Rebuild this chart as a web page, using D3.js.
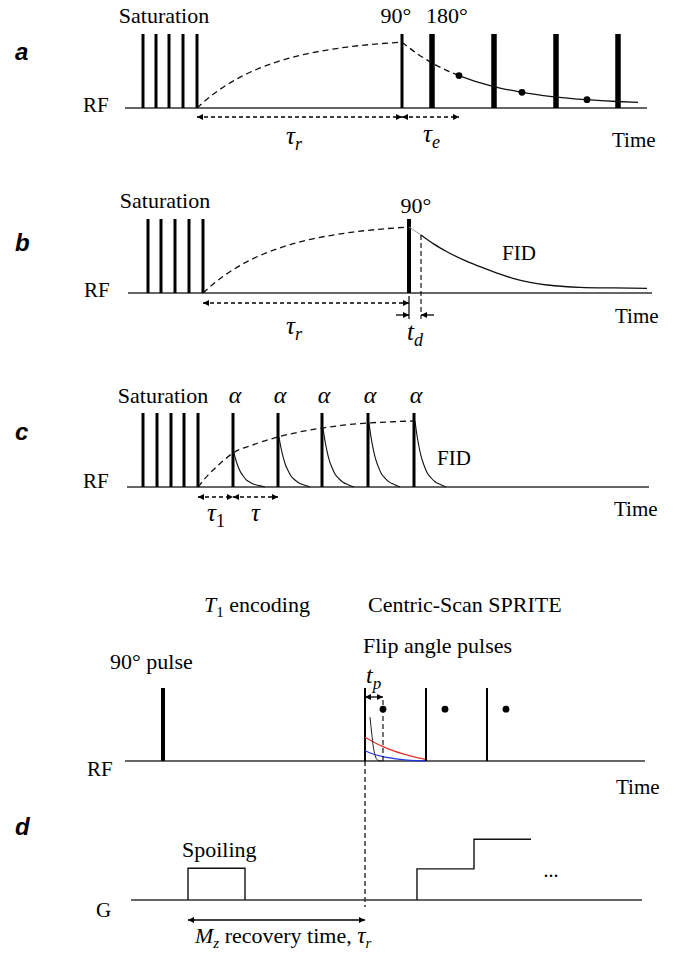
<!DOCTYPE html>
<html><head><meta charset="utf-8">
<script src="https://cdn.jsdelivr.net/npm/d3@7"></script>
<style>html,body{margin:0;padding:0;background:#fff}</style>
</head><body><svg id="c" width="684" height="956"></svg>
<script>
// ---------------- data (time in arbitrary units, signal 0..1) ----------------
const timeDomain = [0, 520];

// panel a : spin echo
const aSatPulses = [16, 29, 42, 56, 70];
const a90Pulse = [275];
const a180Pulses = [305, 367, 429, 491];
const aRecoveryT = [70, 80, 90, 100, 115, 130, 150, 170, 195, 220, 245, 275];
const aRecoveryS = [0, 0.119, 0.223, 0.314, 0.430, 0.524, 0.624, 0.701, 0.772, 0.823, 0.860, 0.890];
const aEchoDashT = [275, 290, 305, 320, 332];
const aEchoDashS = [0.890, 0.736, 0.610, 0.506, 0.438];
const aEchoT = [332, 350, 370, 395, 425, 460, 490, 511];
const aEchoS = [0.438, 0.353, 0.280, 0.212, 0.155, 0.112, 0.088, 0.077];
const aEchoDotsT = [332, 395, 460];
const aEchoDotsS = [0.438, 0.212, 0.112];

// panel b : FID
const bSatPulses = [21, 34, 48, 62, 76];
const b90Pulse = [282];
const bRecoveryT = [76, 86, 96, 106, 121, 136, 156, 176, 201, 226, 251, 282];
const bRecoveryS = [0, 0.119, 0.223, 0.314, 0.430, 0.524, 0.624, 0.701, 0.772, 0.823, 0.860, 0.892];
const bDeadT = [282, 294];
const bDeadS = [0.892, 0.784];
const bFidT = [294, 307, 320, 336, 353, 370, 386, 403, 420, 437, 453, 487, 520];
const bFidS = [0.784, 0.66, 0.558, 0.45, 0.356, 0.27, 0.198, 0.145, 0.108, 0.088, 0.077, 0.068, 0.063];

// panel c : small flip angle train
const cSatPulses = [16, 30, 44, 57, 71];
const cAlphaPulses = [106, 151, 195, 241, 287];
const cRecoveryT = [71, 81, 91, 106, 126, 151, 171, 195, 216, 241, 266, 287];
const cRecoveryS = [0, 0.16, 0.29, 0.459, 0.57, 0.676, 0.74, 0.797, 0.835, 0.865, 0.882, 0.892];
const cFidAmp = [0.459, 0.676, 0.797, 0.865, 0.892];
const fidDecayDt = [0, 2, 4, 6, 9, 12, 16, 20, 25, 31];
const fidDecayRel = [1, 0.78, 0.61, 0.47, 0.33, 0.22, 0.14, 0.08, 0.04, 0];

// panel d : centric-scan SPRITE
const d90Pulse = [36];
const dFlipPulses = [238, 299, 360];
const dSampleT = [256, 318, 379];
const dSampleS = [0.71, 0.71, 0.71];
const dRedT = [238, 246, 256, 266, 276, 286, 298];
const dRedS = [0.325, 0.264, 0.196, 0.141, 0.096, 0.059, 0.023];
const dBlueT = [238, 246, 256, 273, 298];
const dBlueS = [0.141, 0.096, 0.059, 0.023, 0];
const dBlackT = [243, 244.7, 246.3, 248, 250.3, 254.7];
const dBlackS = [0.60, 0.384, 0.196, 0.082, 0.014, 0];
const gSpoilT = [61, 118];
const gSpoilLevel = 0.43;
const gStepT = [290, 347, 404];
const gStepLevels = [0.42, 0.82];

// ---------------- drawing ----------------
const SERIF = '"Liberation Serif","Times New Roman",serif';
const SANS = '"Liberation Sans",Arial,sans-serif';
const svg = d3.select('#c');
svg.append('rect').attr('width', 684).attr('height', 956).attr('fill', '#fff');

const defs = svg.append('defs');
defs.append('marker').attr('id', 'ah').attr('viewBox', '0 0 10 10')
  .attr('refX', 10).attr('refY', 5).attr('markerWidth', 7).attr('markerHeight', 6)
  .attr('markerUnits', 'userSpaceOnUse').attr('orient', 'auto-start-reverse')
  .append('path').attr('d', 'M0,0L10,5L0,10z').attr('fill', '#000');

const x = d3.scaleLinear().domain(timeDomain).range([127, 647]);
const yS = (base, h = 74) => d3.scaleLinear().domain([0, 1]).range([base, base - h]);
const yA = yS(108), yB = yS(293), yC = yS(487), yD = yS(761, 73), yG = yS(900);

function txt(px, py, s, o = {}) {
  return svg.append('text').attr('x', px).attr('y', py)
    .attr('font-family', o.family || SERIF).attr('font-size', o.size || 22)
    .attr('font-style', o.italic ? 'italic' : null).attr('font-weight', o.bold ? 'bold' : null)
    .attr('text-anchor', o.anchor || 'start').attr('fill', '#000').text(s);
}
function mtxt(px, py, parts, anchor = 'start', size = 25) {
  const subSize = Math.round(size * 0.7), dy = Math.round(size * 0.24);
  const t = svg.append('text').attr('x', px).attr('y', py).attr('font-family', SERIF)
    .attr('font-size', size).attr('text-anchor', anchor).attr('fill', '#000');
  let inSub = false;
  parts.forEach(p => {
    const ts = t.append('tspan').text(p.t);
    if (p.i) ts.attr('font-style', 'italic');
    if (p.sz) ts.attr('font-size', p.sz);
    if (p.sub && !inSub) { ts.attr('dy', dy).attr('font-size', subSize); inSub = true; }
    else if (p.sub) ts.attr('font-size', subSize);
    else if (!p.sub && inSub) { ts.attr('dy', -dy); inSub = false; }
  });
  return t;
}
function baseline(y, t0, t1) {
  svg.append('line').attr('x1', x(t0)).attr('x2', x(t1)).attr('y1', y(0)).attr('y2', y(0))
    .attr('stroke', '#333').attr('stroke-width', 1.6);
}
function pulses(ts, y, w) {
  svg.append('g').selectAll('line').data(ts).enter().append('line')
    .attr('x1', d => x(d)).attr('x2', d => x(d)).attr('y1', y(0)).attr('y2', y(1))
    .attr('stroke', '#000').attr('stroke-width', w);
}
function curve(T, S, y, o = {}) {
  const ln = d3.line().x(d => x(d[0])).y(d => y(d[1])).curve(d3.curveMonotoneX);
  svg.append('path').attr('d', ln(d3.zip(T, S))).attr('fill', 'none')
    .attr('stroke', o.color || '#111').attr('stroke-width', o.w || 1.3)
    .attr('stroke-dasharray', o.dash ? '6,4' : null);
}
function arrow(t0, t1, py, dashed, both = true) {
  const l = svg.append('line').attr('x1', x(t0)).attr('x2', x(t1)).attr('y1', py).attr('y2', py)
    .attr('stroke', '#000').attr('stroke-width', 1.3)
    .attr('stroke-dasharray', dashed ? '4,3' : null)
    .attr('marker-end', 'url(#ah)');
  if (both) l.attr('marker-start', 'url(#ah)');
}
function vline(t, py0, py1, dashed, w = 1.2) {
  svg.append('line').attr('x1', x(t)).attr('x2', x(t)).attr('y1', py0).attr('y2', py1)
    .attr('stroke', '#000').attr('stroke-width', w).attr('stroke-dasharray', dashed ? '5,3' : null);
}
function dots(T, S, y) {
  svg.append('g').selectAll('circle').data(d3.zip(T, S)).enter().append('circle')
    .attr('cx', d => x(d[0])).attr('cy', d => y(d[1])).attr('r', 3.4).attr('fill', '#000');
}
const panelLabel = (py, s) => txt(15, py, s, { family: SANS, size: 24, italic: true, bold: true });

// ---- panel a ----
panelLabel(60, 'a');
txt(164, 23, 'Saturation', { anchor: 'middle' });
txt(396, 23, '90°', { anchor: 'middle' });
txt(447, 23, '180°', { anchor: 'middle' });
txt(83, 112, 'RF', { size: 21 });
txt(612, 147, 'Time', { size: 21 });
baseline(yA, -2, 520);
pulses(aSatPulses, yA, 3);
pulses(a90Pulse, yA, 3);
pulses(a180Pulses, yA, 5.5);
curve(aRecoveryT, aRecoveryS, yA, { dash: true });
curve(aEchoDashT, aEchoDashS, yA, { dash: true });
curve(aEchoT, aEchoS, yA);
dots(aEchoDotsT, aEchoDotsS, yA);
arrow(aRecoveryT[0], a90Pulse[0], 117, true);
arrow(a90Pulse[0], aEchoDotsT[0], 117, true);
mtxt(286, 144, [{ t: 'τ', i: true }, { t: 'r', i: true, sub: true }]);
mtxt(423, 142, [{ t: 'τ', i: true }, { t: 'e', i: true, sub: true }]);

// ---- panel b ----
panelLabel(251, 'b');
txt(165, 208, 'Saturation', { anchor: 'middle' });
txt(416, 213, '90°', { anchor: 'middle' });
txt(84, 297, 'RF', { size: 21 });
txt(502, 260, 'FID', { size: 21 });
txt(615, 323, 'Time', { size: 21 });
baseline(yB, 1, 525);
pulses(bSatPulses, yB, 3);
pulses(b90Pulse, yB, 4);
curve(bRecoveryT, bRecoveryS, yB, { dash: true });
curve(bDeadT, bDeadS, yB, { color: '#999', w: 1 });
curve(bFidT, bFidS, yB);
vline(bDeadT[1], yB(bDeadS[1]), 319, true, 1.1);
vline(b90Pulse[0], 296, 319, false, 1.2);
arrow(bRecoveryT[0], b90Pulse[0], 303, true);
arrow(b90Pulse[0] - 13, b90Pulse[0], 315, false, false);
arrow(bDeadT[1] + 13, bDeadT[1], 315, false, false);
mtxt(286, 334, [{ t: 'τ', i: true }, { t: 'r', i: true, sub: true }]);
mtxt(407, 340, [{ t: 't', i: true }, { t: 'd', i: true, sub: true }]);

// ---- panel c ----
panelLabel(440, 'c');
txt(163, 403, 'Saturation', { anchor: 'middle' });
cAlphaPulses.forEach(t => mtxt(x(t) + 2, 403, [{ t: 'α', i: true }], 'middle', 24));
txt(83, 488, 'RF', { size: 21 });
txt(437, 465, 'FID', { size: 21 });
txt(614, 516, 'Time', { size: 21 });
baseline(yC, 0, 522);
pulses(cSatPulses, yC, 3);
pulses(cAlphaPulses, yC, 3);
curve(cRecoveryT, cRecoveryS, yC, { dash: true });
cAlphaPulses.forEach((t0, k) => {
  curve(fidDecayDt.map(d => t0 + 1 + d), fidDecayRel.map(r => r * cFidAmp[k]), yC, { w: 1.1 });
});
arrow(cRecoveryT[0], cAlphaPulses[0], 497, true);
arrow(cAlphaPulses[0], cAlphaPulses[1], 497, true);
mtxt(207, 521, [{ t: 'τ', i: true }, { t: '1', sub: true }]);
mtxt(251, 521, [{ t: 'τ', i: true }]);

// ---- panel d ----
mtxt(204, 612, [{ t: 'T', i: true }, { t: '1', sub: true }, { t: ' encoding' }], 'start', 22);
txt(368, 612, 'Centric-Scan SPRITE');
txt(363, 653, 'Flip angle pulses');
txt(110, 669, '90° pulse');
mtxt(366, 683, [{ t: 't', i: true }, { t: 'p', i: true, sub: true }], 'start', 24);
txt(87, 776, 'RF', { size: 21 });
txt(616, 794, 'Time', { size: 21 });
panelLabel(835, 'd');
baseline(yD, -2, 518);
pulses(d90Pulse, yD, 4);
pulses(dFlipPulses, yD, 2);
curve(dRedT, dRedS, yD, { color: '#e8302a', w: 1.3 });
curve(dBlueT, dBlueS, yD, { color: '#2236e0', w: 1.3 });
curve(dBlackT, dBlackS, yD, { color: '#222', w: 1 });
dots(dSampleT, dSampleS, yD);
vline(dSampleT[0], 700, yD(0), true, 1.1);
arrow(dFlipPulses[0], dSampleT[0], 697, false);
vline(dFlipPulses[0], yD(0), 907, true, 1.2);

// gradient
txt(182, 857, 'Spoiling');
txt(551, 877, '...', { anchor: 'middle', size: 20 });
txt(96, 917, 'G', { size: 21 });
baseline(yG, 4, 515);
const spoilPts = [[gSpoilT[0], 0], [gSpoilT[0], gSpoilLevel], [gSpoilT[1], gSpoilLevel], [gSpoilT[1], 0]];
const stepPts = [[gStepT[0], 0], [gStepT[0], gStepLevels[0]], [gStepT[1], gStepLevels[0]],
                 [gStepT[1], gStepLevels[1]], [gStepT[2], gStepLevels[1]]];
const lin = d3.line().x(d => x(d[0])).y(d => yG(d[1]));
svg.append('path').attr('d', lin(spoilPts)).attr('fill', 'none').attr('stroke', '#111').attr('stroke-width', 1.4);
svg.append('path').attr('d', lin(stepPts)).attr('fill', 'none').attr('stroke', '#111').attr('stroke-width', 1.4);
arrow(gSpoilT[0], dFlipPulses[0], 920, false);
mtxt(195, 943, [{ t: 'M', i: true }, { t: 'z', i: true, sub: true }, { t: ' recovery time, ' }, { t: 'τ', i: true, sz: 23 }, { t: 'r', i: true, sub: true }], 'start', 22);
</script></body></html>
